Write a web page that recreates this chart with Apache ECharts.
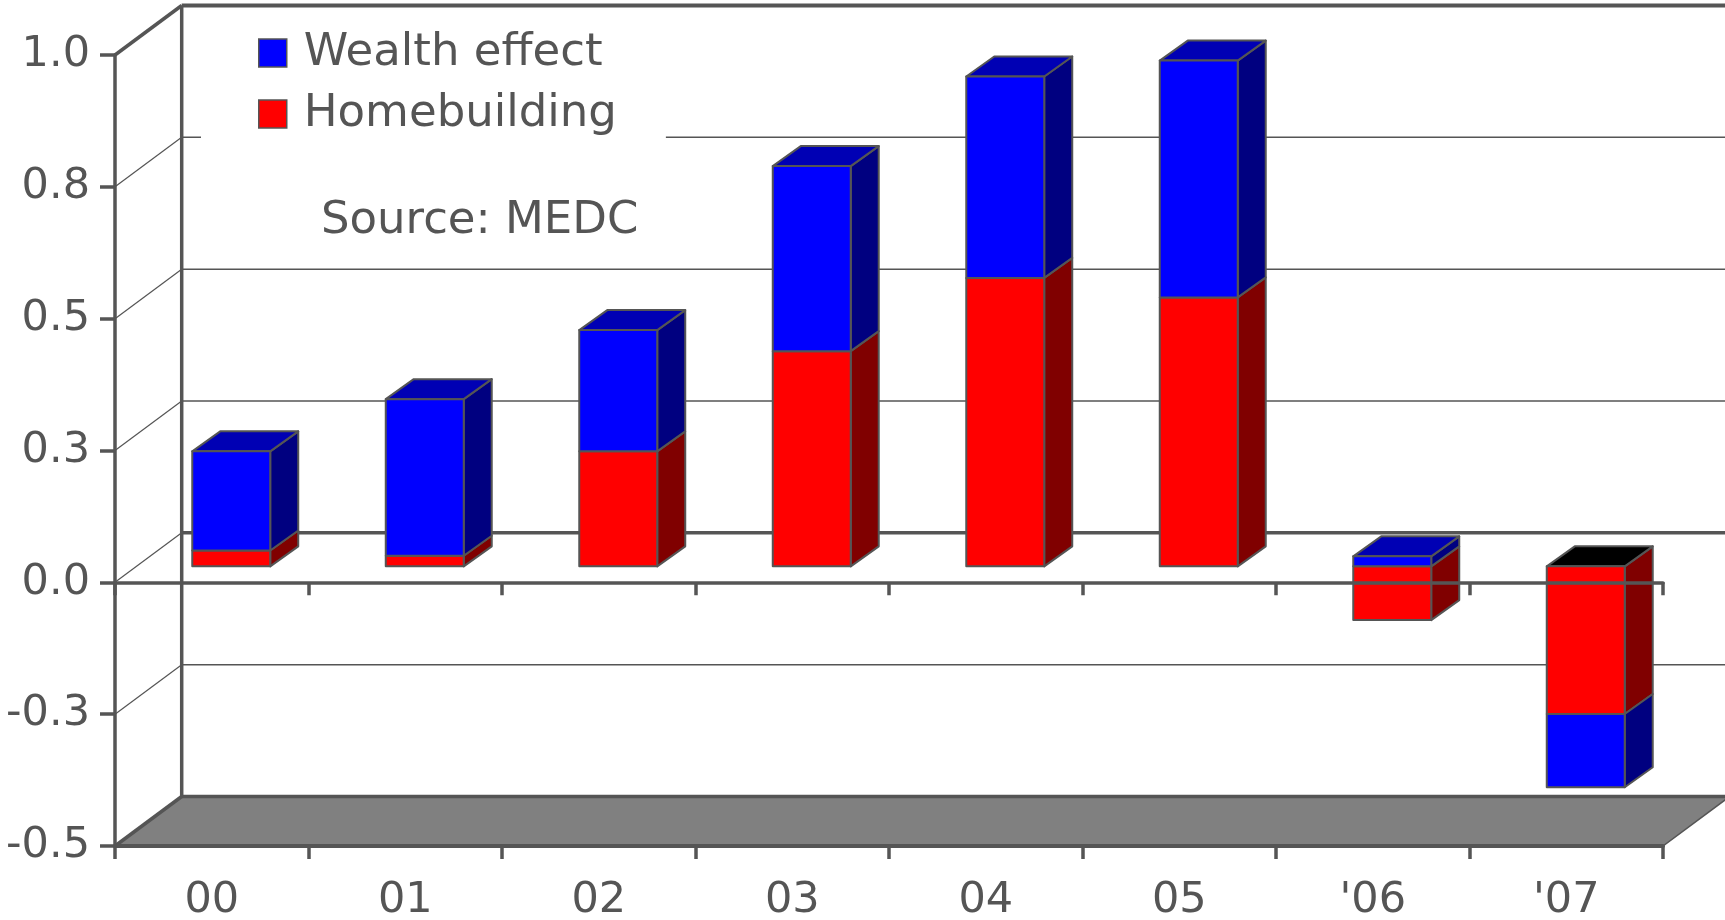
<!DOCTYPE html>
<html>
<head>
<meta charset="utf-8">
<title>Wealth effect / Homebuilding</title>
<script src="https://cdn.jsdelivr.net/npm/echarts@6/dist/echarts.min.js"></script>
<style>
    html, body { margin: 0; padding: 0; background: #fff; }
    #chart { width: 1725px; height: 920px; }
</style>
</head>
<body>
<div id="chart"></div>
<script>
    var categories = ['00', '01', '02', '03', '04', '05', "'06", "'07"];
    var wealth = [0.188, 0.297, 0.230, 0.351, 0.382, 0.449, 0.019, -0.139];
    var homebuilding = [0.030, 0.020, 0.218, 0.408, 0.547, 0.510, -0.102, -0.280];
    var yTicks = [-0.5, -0.25, 0, 0.25, 0.5, 0.75, 1.0];

    var FONT = 'DejaVu Sans';
    var TEXT = '#555';
    var LINE = '#555';

    // 3d look: wall depth and bar depth, in pixels
    var WALL_DX = 66.7, WALL_DY = -49.5;
    var BAR_SHIFT_X = 19.5, BAR_SHIFT_Y = -16;
    var BAR_DX = 28, BAR_DY = -20;
    var BAR_FACE = 0.403;

    // stack the two series, positives and negatives apart
    function stackData() {
        var pos = categories.map(function () { return 0; });
        var neg = categories.map(function () { return 0; });
        var out = [];
        [homebuilding, wealth].forEach(function (arr) {
            out.push(arr.map(function (v, i) {
                var s;
                if (v >= 0) { s = pos[i]; pos[i] += v; return [i, s, pos[i]]; }
                s = neg[i]; neg[i] += v; return [i, s, neg[i]];
            }));
        });
        // mark the segment that carries the top face
        categories.forEach(function (c, i) {
            var best = -1, bestVal = -Infinity;
            out.forEach(function (rows, k) {
                var m = Math.max(rows[i][1], rows[i][2]);
                if (m > bestVal + 1e-9) { bestVal = m; best = k; }
            });
            out.forEach(function (rows, k) { rows[i].push(k === best ? 1 : 0); });
        });
        return out;
    }
    var stacked = stackData();

    function barRenderer(front, side, top) {
        return function (params, api) {
            var cat = api.value(0), s = api.value(1), e = api.value(2), isTop = api.value(3);
            var band = api.size([1, 0])[0];
            var p0 = api.coord([cat, s]);
            var p1 = api.coord([cat, e]);
            var w = band * BAR_FACE;
            var xl = p0[0] - w / 2 + BAR_SHIFT_X, xr = xl + w;
            var ya = p0[1] + BAR_SHIFT_Y, yb = p1[1] + BAR_SHIFT_Y;
            var yt = Math.min(ya, yb), ybot = Math.max(ya, yb);
            var stroke = { stroke: LINE, lineWidth: 2, lineJoin: 'round' };
            var kids = [];
            kids.push({
                type: 'polygon',
                shape: { points: [[xr, yt], [xr + BAR_DX, yt + BAR_DY], [xr + BAR_DX, ybot + BAR_DY], [xr, ybot]] },
                style: Object.assign({ fill: side }, stroke)
            });
            if (isTop) {
                kids.push({
                    type: 'polygon',
                    shape: { points: [[xl, yt], [xl + BAR_DX, yt + BAR_DY], [xr + BAR_DX, yt + BAR_DY], [xr, yt]] },
                    style: Object.assign({ fill: e >= s ? top : '#000' }, stroke)
                });
            }
            kids.push({
                type: 'rect',
                shape: { x: xl, y: yt, width: w, height: ybot - yt },
                style: Object.assign({ fill: front }, stroke)
            });
            return { type: 'group', children: kids };
        };
    }

    // back wall, left wall and floor
    function renderFrame(params, api) {
        var v = api.value(0);
        var cs = params.coordSys;
        var x0 = cs.x, x1 = cs.x + cs.width;
        var y = api.coord([0, v])[1];
        var min = yTicks[0], max = yTicks[yTicks.length - 1];
        var thick = (v === min || v === 0 || v === max);
        var kids = [];
        if (v === min) {
            kids.push({
                type: 'polygon',
                shape: { points: [[x0, y], [x1, y], [x1 + WALL_DX, y + WALL_DY], [x0 + WALL_DX, y + WALL_DY]] },
                style: { fill: '#808080', stroke: LINE, lineWidth: 1.5 }
            });
        }
        kids.push({
            type: 'line',
            shape: { x1: x0 + WALL_DX, y1: y + WALL_DY, x2: x1 + WALL_DX + 20, y2: y + WALL_DY },
            style: { stroke: LINE, lineWidth: v === max ? 4 : (thick ? 3.5 : 1.5) }
        });
        kids.push({
            type: 'line',
            shape: { x1: x0, y1: y, x2: x0 + WALL_DX, y2: y + WALL_DY },
            style: { stroke: LINE, lineWidth: (v === min || v === max) ? 3.5 : 1.2 }
        });
        if (v === max) {
            kids.push({
                type: 'line',
                shape: { x1: x0 + WALL_DX, y1: y + WALL_DY, x2: x0 + WALL_DX, y2: cs.y + cs.height + WALL_DY },
                style: { stroke: LINE, lineWidth: 3.5 }
            });
        }
        return { type: 'group', children: kids };
    }

    var myChart = echarts.init(document.getElementById('chart'));

    var option = {
        backgroundColor: '#fff',
        animation: false,
        textStyle: { fontFamily: FONT },
        title: {
            text: 'Source: MEDC',
            left: 321,
            top: 199,
            padding: 0,
            textStyle: { fontFamily: FONT, fontSize: 45, fontWeight: 'normal', color: TEXT }
        },
        legend: {
            left: 201,
            top: 13,
            orient: 'vertical',
            padding: [12, 49, 14, 57],
            backgroundColor: '#fff',
            itemWidth: 28,
            itemHeight: 28,
            itemGap: 5,
            icon: 'rect',
            selectedMode: false,
            textStyle: { fontFamily: FONT, fontSize: 45, color: TEXT, lineHeight: 42, padding: [14, 0, 0, 12] },
            data: [
                { name: 'Wealth effect', itemStyle: { color: '#0000ff', borderColor: LINE, borderWidth: 1.5 } },
                { name: 'Homebuilding', itemStyle: { color: '#ff0000', borderColor: LINE, borderWidth: 1.5 } }
            ]
        },
        grid: {
            left: 115,
            top: 55,
            width: 1548,
            height: 791,
            outerBoundsMode: 'none'
        },
        xAxis: [
            {
                type: 'category',
                data: categories,
                position: 'bottom',
                z: 5,
                axisLine: { onZero: false, lineStyle: { color: LINE, width: 4 } },
                axisTick: { show: true, length: 13, lineStyle: { color: LINE, width: 3.5 } },
                axisLabel: { fontFamily: FONT, fontSize: 43, color: TEXT, margin: 33 },
                splitLine: { show: false }
            },
            {
                type: 'category',
                data: categories,
                position: 'top',
                z: 10,
                axisLine: { onZero: true, lineStyle: { color: LINE, width: 3.5 } },
                axisTick: { show: true, inside: true, length: 13, lineStyle: { color: LINE, width: 3.5 } },
                axisLabel: { show: false },
                splitLine: { show: false }
            }
        ],
        yAxis: {
            type: 'value',
            min: -0.5,
            max: 1.0,
            interval: 0.25,
            z: 5,
            axisLine: { show: true, onZero: false, lineStyle: { color: LINE, width: 3.5 } },
            axisTick: { show: true, length: 15, lineStyle: { color: LINE, width: 3.5 } },
            axisLabel: {
                fontFamily: FONT, fontSize: 43, color: TEXT, margin: 25,
                padding: [6, 0, 0, 0],
                formatter: function (v) { return v.toFixed(1); }
            },
            splitLine: { show: false }
        },
        series: [
            {
                name: 'frame',
                type: 'custom',
                z: 1,
                silent: true,
                renderItem: renderFrame,
                encode: { y: 0 },
                data: yTicks.map(function (v) { return [v]; })
            },
            {
                name: 'Homebuilding',
                type: 'custom',
                z: 3,
                itemStyle: { color: '#ff0000' },
                renderItem: barRenderer('#ff0000', '#800000', '#b00000'),
                encode: { x: 0, y: [1, 2] },
                data: stacked[0]
            },
            {
                name: 'Wealth effect',
                type: 'custom',
                z: 3,
                itemStyle: { color: '#0000ff' },
                renderItem: barRenderer('#0000ff', '#000080', '#0000b4'),
                encode: { x: 0, y: [1, 2] },
                data: stacked[1]
            }
        ]
    };

    myChart.setOption(option);
</script>
</body>
</html>
